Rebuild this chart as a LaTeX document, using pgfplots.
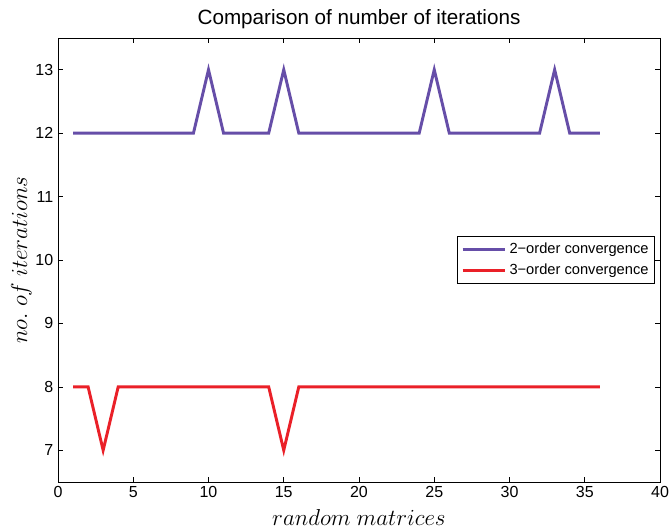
\documentclass[border=0pt]{standalone}
\usepackage{pgfplots}
\pgfplotsset{compat=1.18}
\usepackage{fontspec}
\setmainfont{Liberation Sans}
\definecolor{mpurple}{RGB}{102,78,168}
\definecolor{mred}{RGB}{234,32,40}
\begin{document}
\begin{tikzpicture}
\begin{axis}[
  scale only axis,
  width=451.5pt, height=333pt,
  xmin=0, xmax=40, ymin=6.5, ymax=13.5,
  xtick={0,5,...,40}, ytick={7,8,...,13},
  tick align=inside, major tick length=4pt,
  tick style={black, line width=0.5pt},
  axis line style={line width=0.7pt},
  /pgf/number format/assume math mode=true,
  ticklabel style={font=\fontsize{12}{14}\selectfont},
  title={Comparison of number of iterations},
  title style={font=\fontsize{15.5}{18}\selectfont, yshift=-3pt},
  xlabel={$random\ matrices$},
  ylabel={$no.\ of\ iterations$},
  label style={font=\fontsize{16.5}{19}\selectfont},
  xlabel style={yshift=-1.5pt},
  ylabel style={yshift=-4pt},
  legend style={at={(rel axis cs:1,0.5)}, anchor=east, xshift=-3.75pt,
    font=\fontsize{11}{13}\selectfont, draw=black, line width=0.7pt,
    inner xsep=2.5pt, inner ysep=3pt, row sep=2.5pt},
  legend cell align=left,
  legend image code/.code={\draw[#1, line width=2.2pt] (0pt,0pt) -- (32pt,0pt);},
]
\addplot[mpurple, line width=2.2pt] coordinates {
(1,12)(2,12)(3,12)(4,12)(5,12)(6,12)(7,12)(8,12)(9,12)(10,13)(11,12)(12,12)
(13,12)(14,12)(15,13)(16,12)(17,12)(18,12)(19,12)(20,12)(21,12)(22,12)(23,12)(24,12)
(25,13)(26,12)(27,12)(28,12)(29,12)(30,12)(31,12)(32,12)(33,13)(34,12)(35,12)(36,12)};
\addlegendentry{2−order convergence}
\addplot[mred, line width=2.2pt] coordinates {
(1,8)(2,8)(3,7)(4,8)(5,8)(6,8)(7,8)(8,8)(9,8)(10,8)(11,8)(12,8)
(13,8)(14,8)(15,7)(16,8)(17,8)(18,8)(19,8)(20,8)(21,8)(22,8)(23,8)(24,8)
(25,8)(26,8)(27,8)(28,8)(29,8)(30,8)(31,8)(32,8)(33,8)(34,8)(35,8)(36,8)};
\addlegendentry{3−order convergence}
\coordinate (sw) at (rel axis cs:0,0);
\coordinate (ne) at (rel axis cs:1,1);
\end{axis}
\pgfresetboundingbox
\path ([xshift=-43.5pt,yshift=-37.5pt]sw) rectangle ([xshift=7.5pt,yshift=28.5pt]ne);
\end{tikzpicture}
\end{document}
